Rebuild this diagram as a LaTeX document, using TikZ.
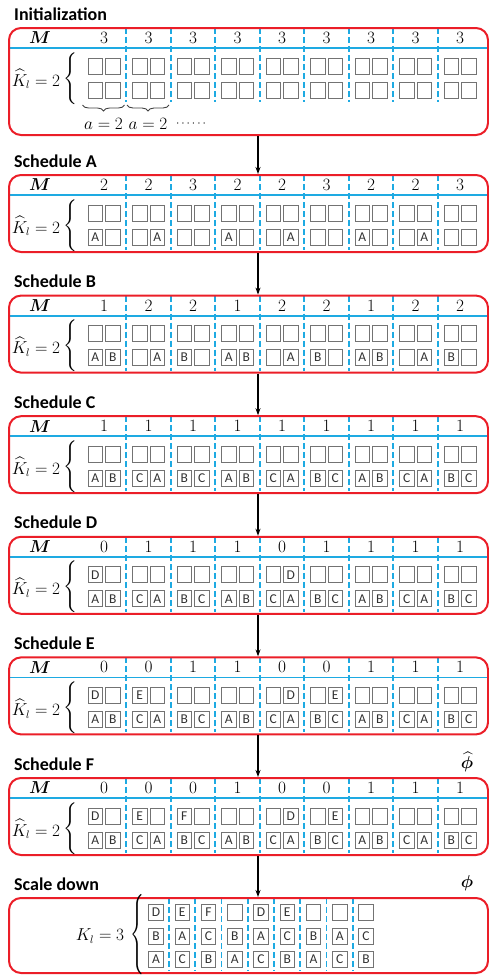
\documentclass[tikz,border=0pt]{standalone}
\usepackage{fontspec}
\usepackage{amsmath}
\usepackage{bm}
\newfontfamily\carlito{Carlito}
\usetikzlibrary{decorations.pathreplacing,arrows.meta}
\definecolor{pred}{RGB}{235,30,40}
\definecolor{pblue}{RGB}{30,170,226}
\definecolor{bgray}{RGB}{115,115,115}
\definecolor{ltext}{RGB}{50,50,50}
\newcommand\bx[1]{\if o#1\else#1\fi}
\tikzset{
 panel/.style={draw=pred, line width=2pt, rounded corners=12pt, inner sep=0pt, anchor=north west, minimum width=479pt},
 vdash/.style={draw=pblue, line width=1.8pt, dash pattern=on 6pt off 3pt},
 hline/.style={draw=pblue, line width=1.8pt},
 sbox/.style={draw=bgray, line width=1pt, minimum width=14.5pt, minimum height=16pt, inner sep=0pt, font=\carlito\fontsize{13.5}{13.5}\selectfont, text=ltext},
 title/.style={font=\carlito\bfseries\fontsize{18}{18}\selectfont, anchor=base west, inner sep=0pt},
 mtext/.style={font=\fontsize{16}{19}\selectfont, inner sep=0pt},
 flow/.style={-{Stealth[length=7pt,width=5pt]}, line width=1.3pt, black},
 ubrace/.style={decorate, decoration={brace, mirror, amplitude=6pt}, draw=black!75, line width=0.9pt},
}
% #1 name, #2 top, #3 height, #4 dash length, #5 title, #6 M list, #7 row1, #8 row2
\newcommand\schedpanel[8]{%
  \foreach \k in {1,...,8}
    \draw[vdash] ({126.25+44.5*(\k-1)},{#2+1}) -- ++(0,#4);
  \draw[hline] (8,{#2+21}) -- (487,{#2+21});
  \node[panel, minimum height=#3pt] (#1) at (8,#2) {};
  \node[title] (#1-title) at (14,{#2-7}) {#5};
  \node[mtext] (#1-M) at (40,{#2+11}) {$\boldsymbol{M}$};
  \foreach \m [count=\i] in {#6}
    \node[mtext] (#1-m\i) at ({104+44.5*(\i-1)},{#2+11}) {$\m$};
  \node[mtext] (#1-K) at (36,{#2+52}) {$\widehat{K}_{l}=2$};
  \node[mtext] (#1-br) at (71,{#2+52}) {$\left\{\vrule height 23pt depth 23pt width 0pt\right.$};
  \foreach \a/\b [count=\i] in {#7} {
    \node[sbox] (#1-u\i-a) at ({104+44.5*(\i-1)-8.75},{#2+39}) {\bx{\a}};
    \node[sbox] (#1-u\i-b) at ({104+44.5*(\i-1)+8.75},{#2+39}) {\bx{\b}};
  }
  \foreach \a/\b [count=\i] in {#8} {
    \node[sbox] (#1-d\i-a) at ({104+44.5*(\i-1)-8.75},{#2+63}) {\bx{\a}};
    \node[sbox] (#1-d\i-b) at ({104+44.5*(\i-1)+8.75},{#2+63}) {\bx{\b}};
  }
}
\begin{document}
\begin{tikzpicture}[x=1pt,y=-1pt]
\useasboundingbox (0,0) rectangle (489,975);
\coordinate (ax) at (258,0);

\schedpanel{init}{27}{107}{74}{Initialization}{3,3,3,3,3,3,3,3,3}
 {o/o,o/o,o/o,o/o,o/o,o/o,o/o,o/o,o/o}
 {o/o,o/o,o/o,o/o,o/o,o/o,o/o,o/o,o/o}
\draw[ubrace] (82.5,105) -- (124.5,105);
\draw[ubrace] (127,105) -- (169,105);
\node[mtext] (a1) at (103.5,124) {$a=2$};
\node[mtext] (a2) at (148,124) {$a=2$};
\node[mtext, font=\fontsize{13}{15}\selectfont] (dots) at (192,124) {$\cdots\cdots$};

\schedpanel{sA}{174}{77}{75}{Schedule A}{2,2,3,2,2,3,2,2,3}
 {o/o,o/o,o/o,o/o,o/o,o/o,o/o,o/o,o/o}
 {A/o,o/A,o/o,A/o,o/A,o/o,A/o,o/A,o/o}

\schedpanel{sB}{294.6}{77}{75}{Schedule B}{1,2,2,1,2,2,1,2,2}
 {o/o,o/o,o/o,o/o,o/o,o/o,o/o,o/o,o/o}
 {A/B,o/A,B/o,A/B,o/A,B/o,A/B,o/A,B/o}

\schedpanel{sC}{415.2}{77}{75}{Schedule C}{1,1,1,1,1,1,1,1,1}
 {o/o,o/o,o/o,o/o,o/o,o/o,o/o,o/o,o/o}
 {A/B,C/A,B/C,A/B,C/A,B/C,A/B,C/A,B/C}

\schedpanel{sD}{535.8}{77}{75}{Schedule D}{0,1,1,1,0,1,1,1,1}
 {D/o,o/o,o/o,o/o,o/D,o/o,o/o,o/o,o/o}
 {A/B,C/A,B/C,A/B,C/A,B/C,A/B,C/A,B/C}

\schedpanel{sE}{656.4}{77}{75}{Schedule E}{0,0,1,1,0,0,1,1,1}
 {D/o,E/o,o/o,o/o,o/D,o/E,o/o,o/o,o/o}
 {A/B,C/A,B/C,A/B,C/A,B/C,A/B,C/A,B/C}

\schedpanel{sF}{777}{77}{75}{Schedule F}{0,0,0,1,0,0,1,1,1}
 {D/o,E/o,F/o,o/o,o/D,o/E,o/o,o/o,o/o}
 {A/B,C/A,B/C,A/B,C/A,B/C,A/B,C/A,B/C}
\node[mtext] (phihat) at (467,762) {$\boldsymbol{\widehat{\phi}}$};

% scale down
\foreach \k in {1,...,8}
  \draw[vdash] ({169+26.25*(\k-1)},898) -- ++(0,73);
\node[panel, minimum height=75pt] (sS) at (8,897) {};
\node[title] (sS-title) at (14,890) {Scale down};
\node[mtext] (phi) at (467,883) {$\boldsymbol{\phi}$};
\node[mtext] (sS-K) at (100,936) {$K_{l}=3$};
\node[mtext] (sS-br) at (137,935) {\scalebox{1}[1.55]{$\Bigg\{$}};
\foreach \a [count=\i] in {D,E,F,o,D,E,o,o,o}
  \node[sbox] (sS-r1-\i) at ({156+26.25*(\i-1)},912) {\bx{\a}};
\foreach \a [count=\i] in {B,A,C,B,A,C,B,A,C}
  \node[sbox] (sS-r2-\i) at ({156+26.25*(\i-1)},936) {\bx{\a}};
\foreach \a [count=\i] in {A,C,B,A,C,B,A,C,B}
  \node[sbox] (sS-r3-\i) at ({156+26.25*(\i-1)},959) {\bx{\a}};

% arrows
\draw[flow] (init.south -| ax) -- (sA.north -| ax);
\draw[flow] (sA.south -| ax) -- (sB.north -| ax);
\draw[flow] (sB.south -| ax) -- (sC.north -| ax);
\draw[flow] (sC.south -| ax) -- (sD.north -| ax);
\draw[flow] (sD.south -| ax) -- (sE.north -| ax);
\draw[flow] (sE.south -| ax) -- (sF.north -| ax);
\draw[flow] (sF.south -| ax) -- (sS.north -| ax);
\end{tikzpicture}
\end{document}
